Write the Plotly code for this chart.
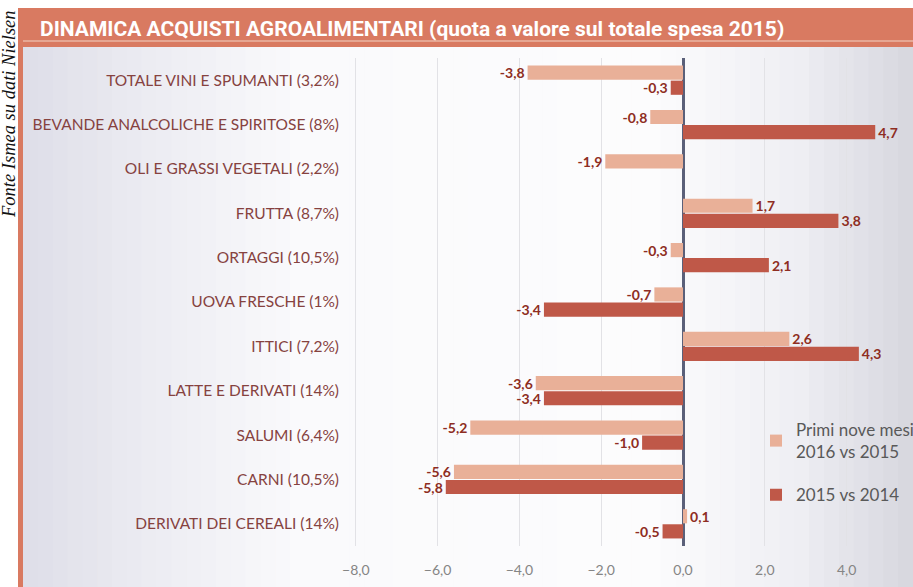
import plotly.graph_objects as go

categories = [
    "TOTALE VINI E SPUMANTI (3,2%)",
    "BEVANDE ANALCOLICHE E SPIRITOSE (8%)",
    "OLI E GRASSI VEGETALI (2,2%)",
    "FRUTTA (8,7%)",
    "ORTAGGI (10,5%)",
    "UOVA FRESCHE (1%)",
    "ITTICI (7,2%)",
    "LATTE E DERIVATI (14%)",
    "SALUMI (6,4%)",
    "CARNI (10,5%)",
    "DERIVATI DEI CEREALI (14%)",
]
primi_nove_mesi_2016_vs_2015 = [-3.8, -0.8, -1.9, 1.7, -0.3, -0.7, 2.6, -3.6, -5.2, -5.6, 0.1]
anno_2015_vs_2014 = [-0.3, 4.7, None, 3.8, 2.1, -3.4, 4.3, -3.4, -1.0, -5.8, -0.5]
series_names = ["Primi nove mesi<br>2016 vs 2015", "2015 vs 2014"]
x_ticks = [-8, -6, -4, -2, 0, 2, 4]

title_text = "DINAMICA ACQUISTI AGROALIMENTARI (quota a valore sul totale spesa 2015)"
source_text = "Fonte Ismea su dati Nielsen"

W, H = 913, 587
ML, MR, MT, MB = 348, 0, 58, 41
PW, PH = W - ML - MR, H - MT - MB
ZERO_PX, UNIT_PX = 683, 40.9


def px(x):
    return (x - ML) / PW


def py(y):
    return (H - MB - y) / PH


SALMON = "#D97A61"
LIGHT = "#E9B098"
DARK = "#BF5848"
LABEL = "#8E2D22"
FONT = "Lato, Open Sans, sans-serif"

fig = go.Figure()
for vals, name, color, grp in [(primi_nove_mesi_2016_vs_2015, series_names[0], LIGHT, "a"),
                               (anno_2015_vs_2014, series_names[1], DARK, "b")]:
    fig.add_trace(go.Bar(
        y=categories, x=vals, orientation="h", name=name, legendgroup=grp,
        marker=dict(color=color, line=dict(width=0)),
        texttemplate="%{x:.1f}", textposition="outside", constraintext="none",
        cliponaxis=False,
        textfont=dict(family=FONT, size=14, color=LABEL, weight="bold"),
    ))

shapes = []
# outer salmon frame
shapes.append(dict(type="rect", xref="paper", yref="paper", layer="below",
                   x0=px(18), x1=px(W + 5), y0=py(8), y1=py(H + 5),
                   fillcolor=SALMON, line=dict(width=0)))
# inner gradient panel (vertical strips, decoration only)
stops = [(23, (222, 222, 232)), (150, (236, 236, 242)), (300, (250, 250, 252)),
         (650, (252, 252, 253)), (800, (238, 238, 243)), (913, (214, 214, 222))]
nstrips = 60
x_start, x_end = 23, W
for i in range(nstrips):
    xa = x_start + (x_end - x_start) * i / nstrips
    xb = x_start + (x_end - x_start) * (i + 1) / nstrips
    xm = (xa + xb) / 2
    c = stops[-1][1]
    for j in range(len(stops) - 1):
        if stops[j][0] <= xm <= stops[j + 1][0]:
            t = (xm - stops[j][0]) / (stops[j + 1][0] - stops[j][0])
            c = tuple(int(round(stops[j][1][k] + t * (stops[j + 1][1][k] - stops[j][1][k]))) for k in range(3))
            break
    shapes.append(dict(type="rect", xref="paper", yref="paper", layer="below",
                       x0=px(xa), x1=px(xb + 0.8), y0=py(47), y1=py(H + 5),
                       fillcolor="rgb(%d,%d,%d)" % c, line=dict(width=0)))
# thin light line under header
shapes.append(dict(type="line", xref="paper", yref="paper", layer="below",
                   x0=px(23), x1=px(W + 5), y0=py(41), y1=py(41),
                   line=dict(color="#F4D3C6", width=1.2)))

annotations = [
    dict(text=title_text, xref="paper", yref="paper", x=px(38), y=py(29),
         xanchor="left", yanchor="middle", showarrow=False,
         font=dict(family="Roboto, Liberation Sans Narrow, sans-serif",
                   size=21, color="white", weight="bold")),
    dict(text=source_text, xref="paper", yref="paper", x=px(9), y=py(114),
         xanchor="center", yanchor="middle", showarrow=False, textangle=-90,
         font=dict(family="Liberation Serif, DejaVu Serif, serif", size=18.5, color="#111111", style="italic")),
]

fig.update_layout(
    width=W, height=H,
    margin=dict(l=ML, r=MR, t=MT, b=MB, pad=0, autoexpand=False),
    paper_bgcolor="white", plot_bgcolor="rgba(0,0,0,0)",
    separators=",.",
    barmode="group", bargap=0.32, bargroupgap=0.06,
    shapes=shapes, annotations=annotations,
    showlegend=True,
    legend=dict(x=px(756), y=py(412), xanchor="left", yanchor="top",
                bgcolor="rgba(0,0,0,0)", traceorder="grouped",
                font=dict(family=FONT, size=17, color="#595959"),
                tracegroupgap=18),
    xaxis=dict(range=[(ML - ZERO_PX) / UNIT_PX, (W - ZERO_PX) / UNIT_PX], tickvals=x_ticks, tickformat=".1f",
               showgrid=True, gridcolor="#E2E2E6", gridwidth=1,
               zeroline=True, zerolinecolor="#5B6079", zerolinewidth=2.5,
               ticks="", ticklabelstandoff=14,
               tickfont=dict(family=FONT, size=14, color="#858585")),
    yaxis=dict(autorange="reversed", showgrid=False, zeroline=False, ticks="",
               ticklabelstandoff=8,
               tickfont=dict(family=FONT, size=15.5, color="#86423F")),
)

fig.write_html("out.html", config={"displayModeBar": False},
               post_script="document.body.style.margin='0';")
